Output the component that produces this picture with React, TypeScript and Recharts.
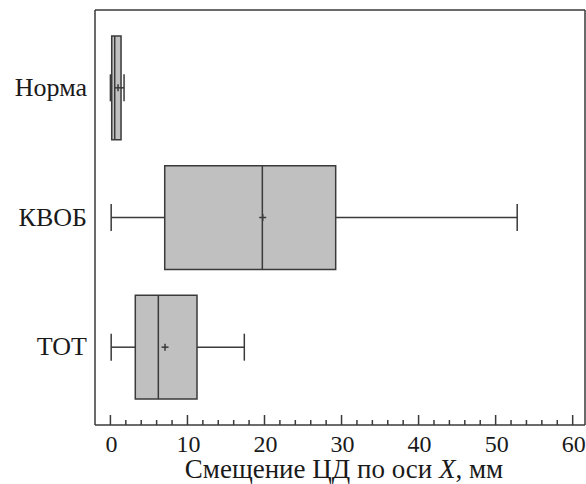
import React from 'react';
import {
  ComposedChart,
  XAxis,
  YAxis,
  Scatter,
  ReferenceArea,
  ReferenceLine,
} from 'recharts';

const categories = ['Норма', 'КВОБ', 'ТОТ'];
const whiskerMin = [0, 0.1, 0.1];
const q1 = [0.17, 7.05, 3.23];
const median = [0.56, 19.72, 6.22];
const q3 = [1.38, 29.24, 11.24];
const whiskerMax = [1.77, 52.8, 17.38];
const means = [0.99, 19.77, 7.09];

const xTicks = [0, 2, 4, 6, 8, 10, 12, 14, 16, 18, 20, 22, 24, 26, 28, 30, 32, 34, 36, 38, 40, 42, 44, 46, 48, 50, 52, 54, 56, 58, 60];
const xLabelTicks = [0, 10, 20, 30, 40, 50, 60];
const yTicks = [0, 1, 2];

const FONT = '"Liberation Serif", "Times New Roman", serif';
const TEXT = '#1a1a1a';
const LINE = '#3a3a3a';
const BOX_FILL = '#c0c0c0';

const meanData = means.map((m, i) => ({ x: m, y: i }));

const BottomTick = (props: any) => {
  const { x, y, payload } = props;
  const major = xLabelTicks.includes(payload.value);
  return (
    <g>
      <line x1={x} x2={x} y1={y} y2={y - (major ? 10 : 5)} stroke={LINE} strokeWidth={1.5} />
      {major && (
        <text x={x + 1} y={y + 27} textAnchor="middle" style={{ fontFamily: FONT, fontSize: 24 }} fill={TEXT}>
          {payload.value}
        </text>
      )}
    </g>
  );
};

const TopTick = (props: any) => {
  const { x, y, payload } = props;
  const major = xLabelTicks.includes(payload.value);
  return <line x1={x} x2={x} y1={y} y2={y + (major ? 10 : 5)} stroke={LINE} strokeWidth={1.5} />;
};

const LeftTick = (props: any) => {
  const { x, y, payload } = props;
  return (
    <text x={x} y={y + 8} textAnchor="end" style={{ fontFamily: FONT, fontSize: 26 }} fill={TEXT}>
      {categories[payload.value] ?? ''}
    </text>
  );
};

const XTitle = (props: any) => {
  const vb = props.viewBox || {};
  const cx = (vb.x || 0) + (vb.width || 0) / 2;
  return (
    <text x={cx + 4} y={(vb.y || 0) + 53} textAnchor="middle" style={{ fontFamily: FONT, fontSize: 27 }} fill={TEXT}>
      Смещение ЦД по оси <tspan style={{ fontStyle: 'italic' }}>X</tspan>, мм
    </text>
  );
};

const PlusShape = (props: any) => {
  const { cx, cy } = props;
  const s = 3.5;
  return (
    <g>
      <line x1={cx - s} x2={cx + s} y1={cy} y2={cy} stroke={LINE} strokeWidth={1.5} />
      <line x1={cx} x2={cx} y1={cy - s} y2={cy + s} stroke={LINE} strokeWidth={1.5} />
    </g>
  );
};

export default function App() {
  const boxHalf = 0.4;
  const capHalf = 0.104;
  return (
    <div style={{ position: 'absolute', left: 0, top: 0, background: '#fff', fontFamily: FONT }}>
      <ComposedChart width={586} height={484} margin={{ top: 9, right: 0, bottom: 0, left: 0 }}>
        <XAxis
          xAxisId={0}
          type="number"
          dataKey="x"
          domain={[-2, 61.6]}
          ticks={xTicks}
          interval={0}
          allowDataOverflow
          height={59}
          tickSize={0}
          tickMargin={0}
          tickLine={false}
          tick={<BottomTick />}
          axisLine={{ stroke: LINE, strokeWidth: 1.5 }}
          label={<XTitle />}
        />
        <XAxis
          xAxisId="top"
          orientation="top"
          type="number"
          domain={[-2, 61.6]}
          ticks={xTicks}
          interval={0}
          allowDataOverflow
          height={1}
          tickSize={0}
          tickMargin={0}
          tickLine={false}
          tick={<TopTick />}
          axisLine={{ stroke: LINE, strokeWidth: 1.5 }}
        />
        <YAxis
          yAxisId={0}
          type="number"
          dataKey="y"
          domain={[-0.6, 2.6]}
          reversed
          ticks={yTicks}
          interval={0}
          allowDataOverflow
          width={95}
          tickSize={0}
          tickMargin={8}
          tickLine={false}
          tick={<LeftTick />}
          axisLine={{ stroke: LINE, strokeWidth: 1.5 }}
        />
        <YAxis
          yAxisId="right"
          orientation="right"
          type="number"
          domain={[-0.6, 2.6]}
          width={1}
          tick={false}
          tickLine={false}
          axisLine={{ stroke: LINE, strokeWidth: 1.5 }}
        />
        {categories.map((c, i) => (
          <ReferenceLine
            key={`wl-${c}`}
            segment={[{ x: whiskerMin[i], y: i }, { x: q1[i], y: i }]}
            stroke={LINE}
            strokeWidth={1.5}
            ifOverflow="visible"
          />
        ))}
        {categories.map((c, i) => (
          <ReferenceLine
            key={`wr-${c}`}
            segment={[{ x: q3[i], y: i }, { x: whiskerMax[i], y: i }]}
            stroke={LINE}
            strokeWidth={1.5}
            ifOverflow="visible"
          />
        ))}
        {categories.map((c, i) => (
          <ReferenceLine
            key={`cl-${c}`}
            segment={[{ x: whiskerMin[i], y: i - capHalf }, { x: whiskerMin[i], y: i + capHalf }]}
            stroke={LINE}
            strokeWidth={1.5}
            ifOverflow="visible"
          />
        ))}
        {categories.map((c, i) => (
          <ReferenceLine
            key={`cr-${c}`}
            segment={[{ x: whiskerMax[i], y: i - capHalf }, { x: whiskerMax[i], y: i + capHalf }]}
            stroke={LINE}
            strokeWidth={1.5}
            ifOverflow="visible"
          />
        ))}
        {categories.map((c, i) => (
          <ReferenceArea
            key={`box-${c}`}
            x1={q1[i]}
            x2={q3[i]}
            y1={i - boxHalf}
            y2={i + boxHalf}
            fill={BOX_FILL}
            fillOpacity={1}
            stroke={LINE}
            strokeWidth={1.5}
            ifOverflow="visible"
          />
        ))}
        {categories.map((c, i) => (
          <ReferenceLine
            key={`med-${c}`}
            segment={[{ x: median[i], y: i - boxHalf }, { x: median[i], y: i + boxHalf }]}
            stroke={LINE}
            strokeWidth={1.5}
            ifOverflow="visible"
          />
        ))}
        <Scatter data={meanData} shape={<PlusShape />} isAnimationActive={false} />
      </ComposedChart>
    </div>
  );
}
